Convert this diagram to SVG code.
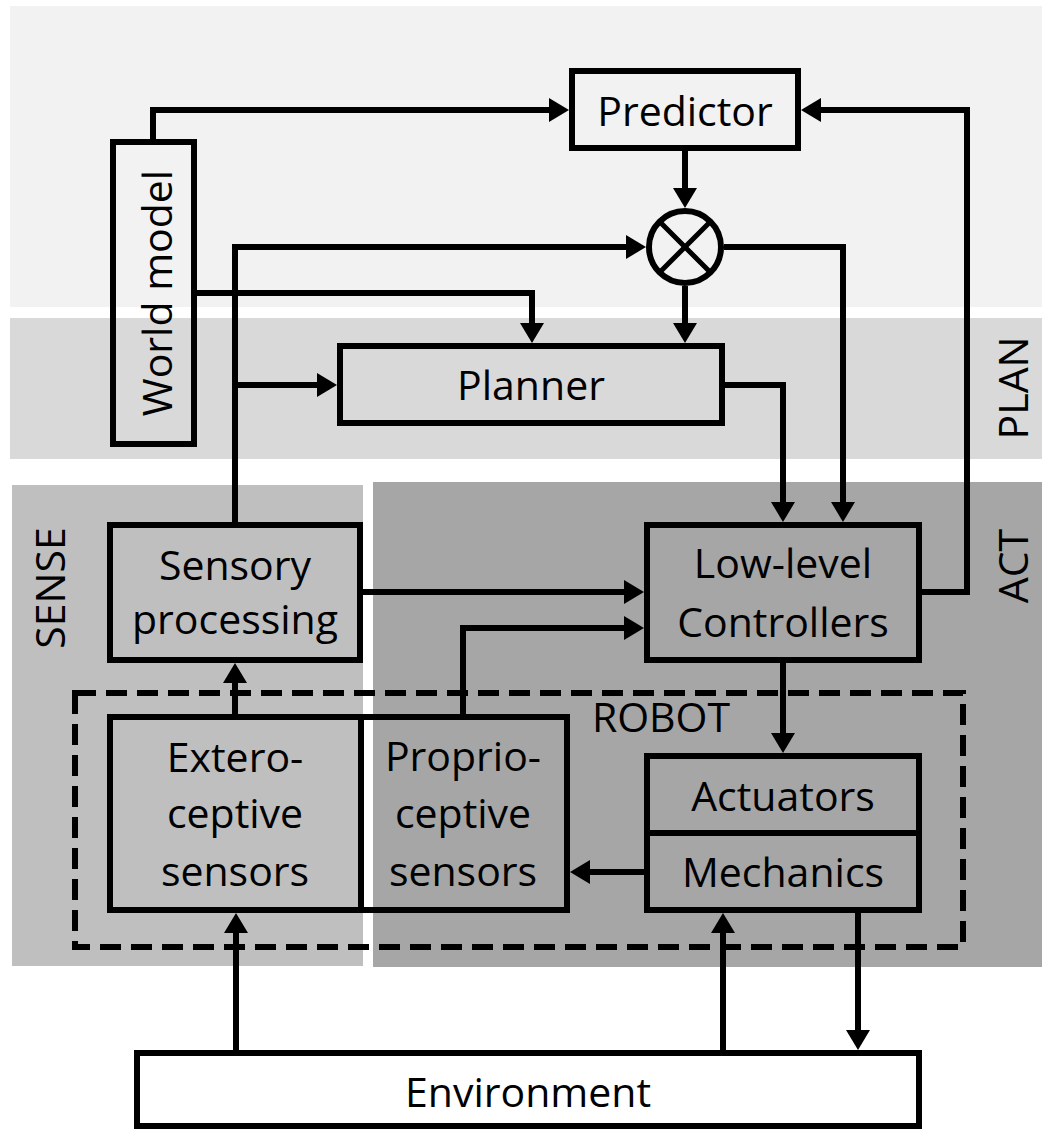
<svg xmlns="http://www.w3.org/2000/svg" width="1042" height="1131" viewBox="0 0 1042 1131">
<style>
.box{fill:none;stroke:#000;stroke-width:6}
.lbl{font-family:"Open Sans","Liberation Sans",sans-serif;font-size:41px;fill:#000;text-anchor:middle}
.con{fill:none;stroke:#000;stroke-width:6;stroke-linejoin:miter}
</style>
<defs>
<marker id="ah" markerUnits="userSpaceOnUse" markerWidth="22" markerHeight="24" refX="10" refY="12" orient="auto" viewBox="0 0 22 24">
<path d="M0,0 L20,12 L0,24 z" fill="#000"/>
</marker>
</defs>
<rect width="1042" height="1131" fill="#fff"/>
<g id="bands">
<rect x="10" y="6" width="1032" height="301" fill="#f2f2f2"/>
<rect x="10" y="318" width="1032" height="141" fill="#d9d9d9"/>
<rect x="12" y="485" width="351" height="481" fill="#bfbfbf"/>
<rect x="373" y="482" width="669" height="485" fill="#a6a6a6"/>
<text class="lbl" transform="translate(1028,388) rotate(-90)">PLAN</text>
<text class="lbl" transform="translate(1028,566) rotate(-90)">ACT</text>
<text class="lbl" transform="translate(65,588) rotate(-90)">SENSE</text>
</g>
<g id="robot">
<rect x="75" y="693" width="888" height="254" fill="none" stroke="#000" stroke-width="6" stroke-dasharray="21,10"/>
<text class="lbl" x="661" y="732">ROBOT</text>
</g>
<g id="connectors">
<path class="con" d="M153,142 V110 H559" marker-end="url(#ah)"/>
<path class="con" d="M922,592 H967 V110 H811" marker-end="url(#ah)"/>
<path class="con" d="M685,151 V198" marker-end="url(#ah)"/>
<path class="con" d="M235,525 V247 H636" marker-end="url(#ah)"/>
<path class="con" d="M235,385 H327" marker-end="url(#ah)"/>
<path class="con" d="M197,293 H532 V333" marker-end="url(#ah)"/>
<path class="con" d="M685,286 V333" marker-end="url(#ah)"/>
<path class="con" d="M724,247 H843 V512" marker-end="url(#ah)"/>
<path class="con" d="M725,385 H783 V512" marker-end="url(#ah)"/>
<path class="con" d="M363,592 H634" marker-end="url(#ah)"/>
<path class="con" d="M463,717 V628 H634" marker-end="url(#ah)"/>
<path class="con" d="M235,714 V673" marker-end="url(#ah)"/>
<path class="con" d="M783,663 V743" marker-end="url(#ah)"/>
<path class="con" d="M644,872 H580" marker-end="url(#ah)"/>
<path class="con" d="M236,1050 V923" marker-end="url(#ah)"/>
<path class="con" d="M723,1050 V923" marker-end="url(#ah)"/>
<path class="con" d="M858,913 V1040" marker-end="url(#ah)"/>
</g>
<g id="world-model">
<rect class="box" x="113" y="142" width="81" height="302"/>
<text class="lbl" transform="translate(172,293) rotate(-90)">World model</text>
</g>
<g id="predictor">
<rect class="box" x="572" y="71" width="226" height="77"/>
<text class="lbl" x="685" y="126">Predictor</text>
</g>
<g id="multiplier">
<circle cx="685" cy="247" r="36" fill="none" stroke="#000" stroke-width="6"/>
<path d="M659.5,221.5 L710.5,272.5 M710.5,221.5 L659.5,272.5" stroke="#000" stroke-width="5"/>
</g>
<g id="planner">
<rect class="box" x="340" y="346" width="382" height="77"/>
<text class="lbl" x="531" y="400">Planner</text>
</g>
<g id="sensory-processing">
<rect class="box" x="110" y="525" width="250" height="135"/>
<text class="lbl" x="235" y="580">Sensory</text>
<text class="lbl" x="235" y="634">processing</text>
</g>
<g id="low-level-controllers">
<rect class="box" x="647" y="525" width="272" height="135"/>
<text class="lbl" x="783" y="578">Low-level</text>
<text class="lbl" x="783" y="637">Controllers</text>
</g>
<g id="exteroceptive-sensors">
<rect class="box" x="110" y="717" width="251" height="193"/>
<text class="lbl" x="235" y="772">Extero-</text>
<text class="lbl" x="235" y="828">ceptive</text>
<text class="lbl" x="235" y="886">sensors</text>
</g>
<g id="proprioceptive-sensors">
<rect class="box" x="361" y="717" width="206" height="193"/>
<text class="lbl" x="463" y="771">Proprio-</text>
<text class="lbl" x="463" y="828">ceptive</text>
<text class="lbl" x="463" y="886">sensors</text>
</g>
<g id="actuators-mechanics">
<rect class="box" x="647" y="756" width="272" height="154"/>
<line x1="647" y1="833" x2="919" y2="833" stroke="#000" stroke-width="6"/>
<text class="lbl" x="783" y="811">Actuators</text>
<text class="lbl" x="783" y="887">Mechanics</text>
</g>
<g id="environment">
<rect x="137" y="1053" width="782" height="73" fill="#fff" stroke="#000" stroke-width="6"/>
<text class="lbl" x="528" y="1107">Environment</text>
</g>
</svg>
